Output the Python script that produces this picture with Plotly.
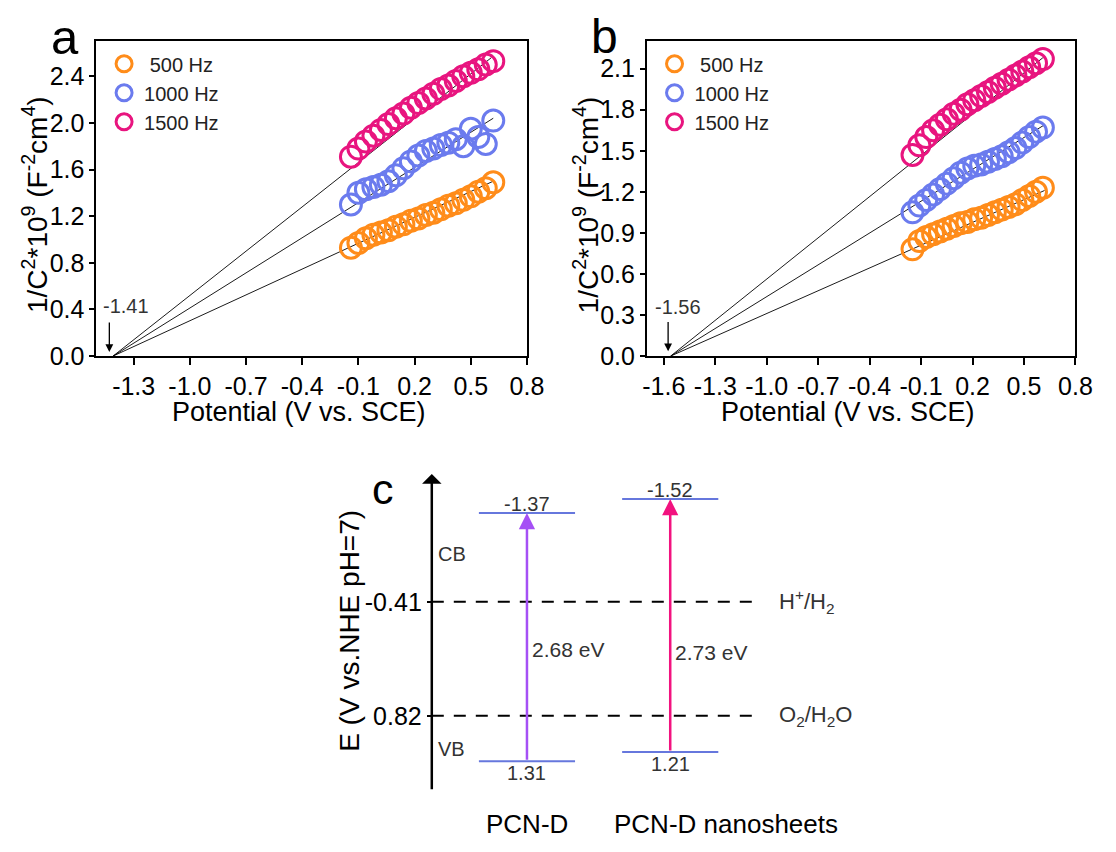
import plotly.graph_objects as go

W, H = 1116, 852
FONT = "Arial, 'Liberation Sans', sans-serif"

def PX(x):
    return x / W

def PY(y):
    return 1 - y / H

# ---------------- data ----------------
freq_labels = [" 500 Hz", "1000 Hz", "1500 Hz"]
freq_colors = ["#FF8C1A", "#6B7BEE", "#E8157F"]

pot_a = [-0.14, -0.10, -0.06, -0.02, 0.02, 0.06, 0.10, 0.14, 0.18, 0.22,
         0.26, 0.30, 0.34, 0.38, 0.42, 0.46, 0.50, 0.54, 0.58, 0.62]
a_500 = [0.93, 0.97, 1.01, 1.04, 1.06, 1.08, 1.11, 1.13, 1.16, 1.18,
         1.21, 1.23, 1.26, 1.29, 1.31, 1.34, 1.37, 1.41, 1.44, 1.49]
a_1000 = [1.30, 1.40, 1.43, 1.45, 1.47, 1.50, 1.55, 1.61, 1.67, 1.72,
          1.76, 1.78, 1.81, 1.83, 1.86, 1.80, 1.95, 1.88, 1.82, 2.02]
a_1500 = [1.71, 1.78, 1.84, 1.89, 1.94, 1.99, 2.04, 2.08, 2.13, 2.17,
          2.21, 2.25, 2.29, 2.32, 2.36, 2.40, 2.43, 2.46, 2.50, 2.53]

pot_b = [-0.15, -0.11, -0.07, -0.03, 0.01, 0.05, 0.09, 0.13, 0.17, 0.21,
         0.25, 0.29, 0.33, 0.37, 0.41, 0.45, 0.49, 0.53, 0.57, 0.61]
b_500 = [0.78, 0.84, 0.87, 0.89, 0.91, 0.93, 0.95, 0.97, 0.98, 1.00,
         1.01, 1.03, 1.05, 1.07, 1.09, 1.11, 1.14, 1.17, 1.20, 1.23]
b_1000 = [1.05, 1.10, 1.14, 1.18, 1.22, 1.26, 1.30, 1.34, 1.37, 1.39,
          1.40, 1.42, 1.44, 1.46, 1.49, 1.52, 1.56, 1.60, 1.64, 1.67]
b_1500 = [1.47, 1.54, 1.60, 1.65, 1.69, 1.73, 1.77, 1.80, 1.84, 1.87,
          1.90, 1.93, 1.96, 1.99, 2.02, 2.05, 2.08, 2.11, 2.14, 2.17]

# Mott-Schottky linear fits: x-intercept and end point of each line
fit_a_intercept = -1.41
fit_a_end_x = [0.62, 0.62, 0.61]
fit_a_end_y = [1.50, 2.04, 2.56]
fit_b_intercept = -1.56
fit_b_end_x = [0.62, 0.62, 0.61]
fit_b_end_y = [1.21, 1.69, 2.18]

a_xticks = [-1.3, -1.0, -0.7, -0.4, -0.1, 0.2, 0.5, 0.8]
a_yticks = [0.0, 0.4, 0.8, 1.2, 1.6, 2.0, 2.4]
b_xticks = [-1.6, -1.3, -1.0, -0.7, -0.4, -0.1, 0.2, 0.5, 0.8]
b_yticks = [0.0, 0.3, 0.6, 0.9, 1.2, 1.5, 1.8, 2.1]

# Band structure (panel c)
materials = ["PCN-D", "PCN-D nanosheets"]
cb_levels = [-1.37, -1.52]
vb_levels = [1.31, 1.21]
band_gaps = ["2.68 eV", "2.73 eV"]
gap_colors = ["#A550F5", "#F2127F"]
redox_levels = [-0.41, 0.82]
redox_labels = ["H<sup>+</sup>/H<sub>2</sub>", "O<sub>2</sub>/H<sub>2</sub>O"]

# ---------------- layout geometry ----------------
a_dom_x = [PX(94), PX(533)]
b_dom_x = [PX(655), PX(1092)]
ab_dom_y = [PY(362), PY(42)]
c_dom_x = [PX(436), PX(900)]
c_dom_y = [PY(804), PY(482)]
c_xrange = [0, 464]           # horizontal units of panel c (pixels from its axis)
c_yrange = [1.63, -1.79]      # energy, reversed (negative up)
mat_center = [97, 243]
level_half = 49
dash_end = 334
gap_label_y = [0.10, 0.14]

fig = go.Figure()

def add_panel(xs, series, intercept, end_x, end_y, xa, ya, legend):
    for i, ys in enumerate(series):
        fig.add_trace(go.Scatter(
            x=[intercept, end_x[i]], y=[0, end_y[i]], mode="lines",
            line=dict(color="black", width=0.9), showlegend=False,
            xaxis=xa, yaxis=ya, hoverinfo="skip"))
    for i, ys in enumerate(series):
        fig.add_trace(go.Scatter(
            x=xs, y=ys, mode="markers", name=freq_labels[i],
            marker=dict(symbol="circle-open", size=21, color=freq_colors[i],
                        line=dict(width=3, color=freq_colors[i])),
            xaxis=xa, yaxis=ya, legend=legend))

add_panel(pot_a, [a_500, a_1000, a_1500], fit_a_intercept, fit_a_end_x, fit_a_end_y, "x", "y", "legend")
add_panel(pot_b, [b_500, b_1000, b_1500], fit_b_intercept, fit_b_end_x, fit_b_end_y, "x2", "y2", "legend2")

# panel c: redox dashed lines
for lv in redox_levels:
    fig.add_trace(go.Scatter(x=[0, dash_end], y=[lv, lv], mode="lines",
                             line=dict(color="black", width=2, dash="12px,10px"),
                             showlegend=False, xaxis="x3", yaxis="y3", hoverinfo="skip"))
# band edges
for i, m in enumerate(materials):
    for lv in (cb_levels[i], vb_levels[i]):
        fig.add_trace(go.Scatter(x=[mat_center[i] - level_half, mat_center[i] + level_half],
                                 y=[lv, lv], mode="lines",
                                 line=dict(color="#6677DD", width=2),
                                 showlegend=False, xaxis="x3", yaxis="y3", hoverinfo="skip"))

axis_common = dict(showline=True, linecolor="black", linewidth=1.5, mirror=True,
                   ticks="outside", tickcolor="black", tickwidth=1.5,
                   showgrid=False, zeroline=False,
                   tickfont=dict(family=FONT, size=25, color="black"))

legend_common = dict(xanchor="left", yanchor="top", bgcolor="rgba(0,0,0,0)",
                     font=dict(family=FONT, size=20, color="#222"),
                     itemwidth=30, tracegroupgap=0)

fig.update_layout(
    width=W, height=H, margin=dict(l=0, r=0, t=0, b=0),
    paper_bgcolor="white", plot_bgcolor="white",
    font=dict(family=FONT, color="black"),
    xaxis=dict(domain=a_dom_x, range=[-1.5, 0.8], anchor="y",
               tickvals=a_xticks, ticktext=[f"{v:.1f}" for v in a_xticks], ticklen=7, **axis_common),
    yaxis=dict(domain=ab_dom_y, range=[0, 2.7], anchor="x",
               tickvals=a_yticks, ticktext=[f"{v:.1f}" for v in a_yticks], ticklen=5, **axis_common),
    xaxis2=dict(domain=b_dom_x, range=[-1.7, 0.8], anchor="y2",
                tickvals=b_xticks, ticktext=[f"{v:.1f}" for v in b_xticks], ticklen=7, **axis_common),
    yaxis2=dict(domain=ab_dom_y, range=[0, 2.3], anchor="x2",
                tickvals=b_yticks, ticktext=[f"{v:.1f}" for v in b_yticks], ticklen=5, **axis_common),
    xaxis3=dict(domain=c_dom_x, range=c_xrange, anchor="y3", visible=False),
    yaxis3=dict(domain=c_dom_y, range=c_yrange, anchor="x3", showline=False,
                showgrid=False, zeroline=False, ticks="outside", ticklen=4,
                tickcolor="black", tickwidth=2,
                tickvals=redox_levels, ticktext=[f"{v:.2f}" for v in redox_levels],
                tickfont=dict(family=FONT, size=25, color="black")),
    legend=dict(x=PX(102), y=PY(45), **legend_common),
    legend2=dict(x=PX(663), y=PY(45), **legend_common),
    showlegend=True,
)

ann = []

def paper_text(text, x, y, size, color="black", xanchor="center", yanchor="middle", angle=0):
    ann.append(dict(text=text, x=PX(x), y=PY(y), xref="paper", yref="paper", showarrow=False,
                    xanchor=xanchor, yanchor=yanchor, textangle=angle,
                    font=dict(family=FONT, size=size, color=color)))

# panel letters
paper_text("a", 62, 38, 49)
paper_text("b", 612, 37, 48)
paper_text("c", 386, 497, 43)

# axis titles a/b
ytitle = "1/C<sup>2</sup>*10<sup>9</sup> (F<sup>-2</sup>cm<sup>4</sup>)"
paper_text(ytitle, 31, 208, 28, angle=-90)
paper_text(ytitle, 593, 208, 28, angle=-90)
for xc in (301, 860):
    paper_text("Potential (V vs. SCE)", xc, 419, 27)

# intercept markers
for xa, ya, icpt, lbl_x, lbl_y, arr_x, tail in (("x", "y", fit_a_intercept, -1.34, 0.43, -1.43, 0.30),
                                                 ("x2", "y2", fit_b_intercept, -1.52, 0.36, -1.575, 0.26)):
    ann.append(dict(text=f"{icpt:.2f}", x=lbl_x, y=lbl_y, xref=xa, yref=ya, showarrow=False,
                    font=dict(family=FONT, size=20, color="#333")))
    ann.append(dict(text="", x=arr_x, y=0.035, ax=arr_x, ay=tail, xref=xa, yref=ya,
                    axref=xa, ayref=ya, showarrow=True, arrowhead=2, arrowsize=1.2,
                    arrowwidth=1.3, arrowcolor="black"))

# panel c energy axis arrow
ann.append(dict(text="", x=0, y=c_yrange[1], ax=0, ay=c_yrange[0], xref="x3", yref="y3",
                axref="x3", ayref="y3", showarrow=True, arrowhead=1, arrowsize=1.3,
                arrowwidth=2.5, arrowcolor="black"))
paper_text("E (V vs.NHE pH=7)", 352, 641, 28, angle=-90)
ann.append(dict(text="CB", x=4, y=-0.93, xref="x3", yref="y3", showarrow=False, xanchor="left",
                font=dict(family=FONT, size=20, color="#333")))
ann.append(dict(text="VB", x=4, y=1.18, xref="x3", yref="y3", showarrow=False, xanchor="left",
                font=dict(family=FONT, size=20, color="#333")))
for lv, lbl in zip(redox_levels, redox_labels):
    ann.append(dict(text=lbl, x=dash_end + 18, y=lv, xref="x3", yref="y3", showarrow=False,
                    xanchor="left", yanchor="middle", font=dict(family=FONT, size=22, color="#333")))

for i, m in enumerate(materials):
    ann.append(dict(text="", x=mat_center[i], y=cb_levels[i], ax=mat_center[i], ay=vb_levels[i],
                    xref="x3", yref="y3", axref="x3", ayref="y3", showarrow=True,
                    arrowhead=2, arrowsize=1.3, arrowwidth=2.5, arrowcolor=gap_colors[i]))
    ann.append(dict(text=f"{cb_levels[i]:.2f}", x=mat_center[i], y=cb_levels[i], xref="x3", yref="y3",
                    showarrow=False, yanchor="bottom", yshift=-4,
                    font=dict(family=FONT, size=20, color="#333")))
    ann.append(dict(text=f"{vb_levels[i]:.2f}", x=mat_center[i], y=vb_levels[i], xref="x3", yref="y3",
                    showarrow=False, yanchor="top", yshift=1,
                    font=dict(family=FONT, size=20, color="#333")))
    ann.append(dict(text=band_gaps[i], x=mat_center[i] + 3, y=gap_label_y[i], xref="x3", yref="y3",
                    showarrow=False, xanchor="left", font=dict(family=FONT, size=21, color="#333")))

paper_text(materials[0], 533, 838, 26)
paper_text(materials[1], 620, 838, 26, xanchor="left")

fig.update_layout(annotations=ann)
fig.write_html("out.html")
